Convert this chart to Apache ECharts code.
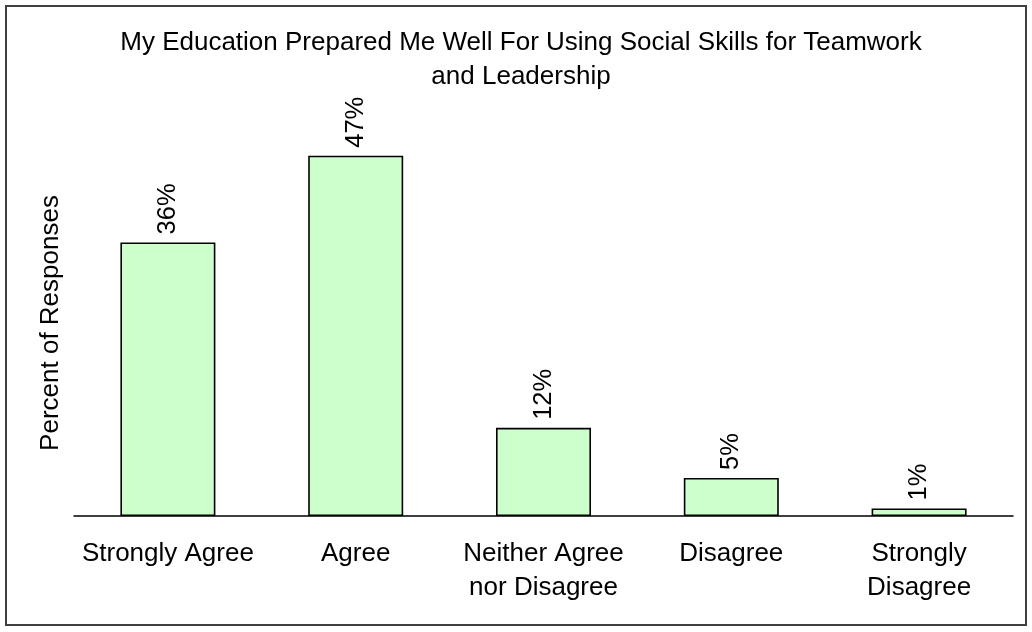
<!DOCTYPE html>
<html>
<head>
<meta charset="utf-8">
<script src="https://cdn.jsdelivr.net/npm/echarts@6/dist/echarts.min.js"></script>
<style>
html,body{margin:0;padding:0;background:#fff;}
#chart{width:1032px;height:632px;}
</style>
</head>
<body>
<div id="chart"></div>
<script>
const titleText = "My Education Prepared Me Well For Using Social Skills for Teamwork\nand Leadership";
const categories = ["Strongly Agree", "Agree", "Neither Agree\nnor Disagree", "Disagree", "Strongly\nDisagree"];
const percentValues = [36.0, 47.4, 11.6, 5.0, 1.0];
const yAxisName = "Percent of Responses";

const FONT = "'Liberation Sans', Arial, sans-serif";
const chart = echarts.init(document.getElementById('chart'), null, {renderer: 'canvas'});
chart.setOption({
  backgroundColor: '#ffffff',
  animation: false,
  title: {
    text: titleText,
    left: 516, textAlign: 'center',
    top: 21,
    textStyle: {fontFamily: FONT, fontSize: 26, fontWeight: 'normal', color: '#000', lineHeight: 34}
  },
  graphic: [{
    type: 'rect', shape: {x: 6, y: 6, width: 1020, height: 619},
    style: {fill: 'none', stroke: '#404040', lineWidth: 2}, silent: true
  }],
  grid: {left: 74, right: 19, top: 136, bottom: 116},
  xAxis: {
    type: 'category', data: categories,
    axisLine: {lineStyle: {color: '#000', width: 1.5}},
    axisTick: {show: false},
    axisLabel: {fontFamily: FONT, fontSize: 26, color: '#000', lineHeight: 34, margin: 21, interval: 0}
  },
  yAxis: {
    type: 'value', min: 0, max: 50,
    axisLine: {show: false}, axisTick: {show: false}, axisLabel: {show: false}, splitLine: {show: false},
    name: yAxisName, nameLocation: 'middle', nameGap: 10,
    nameTextStyle: {fontFamily: FONT, fontSize: 26, color: '#000', padding: [0, 0, 0, 6]}
  },
  series: [{
    type: 'bar', data: percentValues, barWidth: 95,
    itemStyle: {color: '#CCFFCC', borderColor: '#000', borderWidth: 1.6},
    label: {
      show: true, position: 'top', rotate: 90, align: 'left', verticalAlign: 'middle', distance: 8,
      fontFamily: FONT, fontSize: 25.5, color: '#000',
      formatter: p => Math.round(p.value) + '%'
    }
  }]
});
</script>
</body>
</html>
